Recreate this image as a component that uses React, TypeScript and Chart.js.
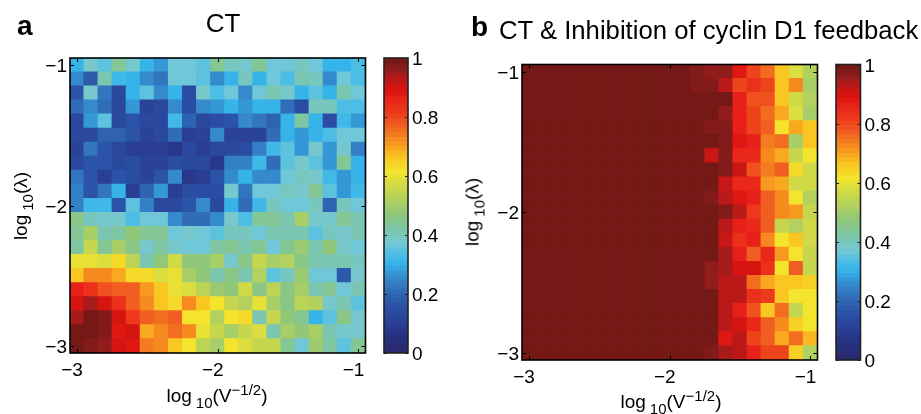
import React, { useEffect, useRef } from "react";
import { Chart, registerables } from "chart.js";

Chart.register(...registerables);

const gridCentres = [-3, -2.9, -2.8, -2.7, -2.6, -2.5, -2.4, -2.3, -2.2, -2.1, -2, -1.9, -1.8, -1.7, -1.6, -1.5, -1.4, -1.3, -1.2, -1.1, -1];
const axisTicks = [-3, -2, -1];
const barTicks = [0, 0.2, 0.4, 0.6, 0.8, 1];

// rows run from log10(lambda) = -1 (top) down to -3 (bottom)
const ctValues = [
  [.31,.38,.35,.44,.38,.31,.28,.37,.37,.35,.44,.40,.38,.45,.37,.37,.40,.36,.31,.31,.34],
  [.26,.18,.41,.32,.31,.25,.22,.37,.37,.35,.25,.31,.40,.30,.37,.34,.42,.40,.25,.37,.34],
  [.16,.38,.23,.14,.31,.35,.25,.31,.15,.38,.33,.36,.25,.37,.42,.38,.31,.35,.30,.42,.37],
  [.21,.26,.21,.14,.27,.12,.13,.26,.15,.26,.28,.31,.28,.31,.31,.21,.15,.40,.40,.34,.34],
  [.14,.28,.35,.13,.17,.13,.13,.32,.19,.14,.15,.17,.25,.22,.19,.30,.43,.31,.15,.32,.28],
  [.14,.14,.19,.19,.16,.11,.13,.21,.10,.11,.26,.11,.12,.12,.21,.31,.27,.31,.33,.37,.36],
  [.11,.22,.16,.13,.10,.10,.10,.09,.13,.10,.14,.13,.15,.24,.32,.35,.28,.38,.28,.39,.24],
  [.14,.16,.16,.14,.15,.11,.11,.15,.14,.14,.09,.24,.24,.32,.21,.35,.39,.35,.28,.44,.31],
  [.23,.16,.10,.16,.15,.11,.16,.26,.09,.10,.16,.25,.31,.25,.25,.36,.40,.38,.32,.27,.31],
  [.24,.16,.23,.31,.10,.19,.28,.10,.15,.15,.15,.38,.22,.37,.37,.40,.38,.44,.35,.27,.32],
  [.24,.32,.32,.16,.35,.24,.14,.14,.16,.26,.13,.31,.21,.32,.40,.37,.37,.40,.20,.40,.37],
  [.46,.40,.38,.38,.34,.37,.37,.25,.21,.21,.25,.38,.33,.44,.44,.42,.50,.38,.38,.45,.41],
  [.44,.50,.41,.43,.47,.44,.44,.36,.38,.36,.35,.40,.40,.37,.42,.42,.42,.35,.40,.38,.42],
  [.43,.56,.45,.51,.46,.39,.43,.39,.36,.36,.43,.44,.41,.44,.36,.45,.49,.42,.47,.38,.37],
  [.60,.60,.58,.63,.54,.42,.47,.57,.47,.47,.50,.39,.46,.55,.50,.52,.46,.42,.42,.42,.40],
  [.67,.72,.72,.70,.63,.63,.58,.60,.51,.47,.42,.46,.42,.52,.35,.40,.49,.37,.37,.18,.38],
  [.86,.84,.79,.77,.77,.71,.66,.60,.58,.54,.49,.47,.57,.46,.54,.46,.50,.42,.44,.37,.41],
  [.90,.95,.90,.83,.78,.72,.66,.63,.72,.66,.62,.55,.52,.60,.50,.46,.54,.52,.38,.42,.35],
  [.95,1,.97,.90,.82,.78,.75,.77,.62,.62,.53,.61,.63,.42,.55,.47,.44,.30,.35,.46,.39],
  [1,.99,.97,.89,.90,.69,.72,.75,.72,.60,.55,.50,.55,.58,.42,.50,.47,.50,.42,.38,.38],
  [1,.98,.96,.90,.88,.74,.72,.66,.62,.54,.50,.62,.58,.55,.55,.45,.37,.49,.43,.35,.45],
];

const inhibitionValues = [
  [1,1,1,1,1,1,1,1,1,1,1,1,.97,.96,.96,.89,.81,.75,.67,.59,.52],
  [1,1,1,1,1,1,1,1,1,1,1,.99,.97,.97,.93,.80,.84,.80,.67,.72,.51],
  [1,1,1,1,1,1,1,1,1,1,1,1,.99,.99,.99,.86,.79,.79,.67,.57,.53],
  [1,1,1,1,1,1,1,1,1,1,1,1,1,.99,.96,.86,.81,.75,.70,.58,.50],
  [1,1,1,1,1,1,1,1,1,1,1,1,1,.97,.97,.86,.80,.77,.62,.70,.66],
  [1,1,1,1,1,1,1,1,1,1,1,1,1,.99,.98,.89,.87,.74,.75,.50,.67],
  [1,1,1,1,1,1,1,1,1,1,1,1,1,.92,.97,.85,.85,.73,.70,.55,.62],
  [1,1,1,1,1,1,1,1,1,1,1,1,1,1,.98,.92,.79,.74,.77,.64,.57],
  [1,1,1,1,1,1,1,1,1,1,1,1,.99,.99,.91,.85,.85,.71,.70,.57,.57],
  [1,1,1,1,1,1,1,1,1,1,1,1,1,.97,.93,.89,.86,.77,.73,.61,.52],
  [1,1,1,1,1,1,1,1,1,1,1,1,.99,.99,.98,.93,.82,.78,.73,.71,.55],
  [1,1,1,1,1,1,1,1,1,1,1,1,1,.99,.93,.86,.85,.78,.55,.53,.57],
  [1,1,1,1,1,1,1,1,1,1,1,1,1,1,.91,.84,.86,.73,.62,.67,.57],
  [1,1,1,1,1,1,1,1,1,1,1,1,.99,.99,.95,.87,.78,.85,.71,.61,.55],
  [1,1,1,1,1,1,1,1,1,1,1,1,1,.96,.95,.90,.90,.84,.61,.78,.56],
  [1,1,1,1,1,1,1,1,1,1,1,1,1,.96,.93,.93,.76,.69,.67,.66,.65],
  [1,1,1,1,1,1,1,1,1,1,1,1,1,.99,.93,.93,.83,.82,.66,.61,.61],
  [1,1,1,1,1,1,1,1,1,1,1,1,1,.99,.93,.87,.79,.66,.76,.55,.61],
  [1,1,1,1,1,1,1,1,1,1,1,1,1,.99,.93,.90,.85,.77,.72,.65,.61],
  [1,1,1,1,1,1,1,1,1,1,1,1,1,.99,.89,.93,.81,.77,.70,.75,.68],
  [1,1,1,1,1,1,1,1,1,1,1,1,.99,.98,.95,.93,.87,.80,.80,.65,.53],
];

const mapStops: [number, string][] = [
  [0, "#2a2a6c"], [0.05, "#26307f"], [0.1, "#2a3f95"], [0.15, "#2a4fa5"], [0.2, "#2f68b4"],
  [0.25, "#3487cb"], [0.3, "#35b3ea"], [0.33, "#48bde6"], [0.37, "#74c8d5"], [0.42, "#7cc6aa"],
  [0.47, "#8dc67c"], [0.52, "#b0d060"], [0.57, "#cfd947"], [0.62, "#f5e42c"], [0.67, "#f9c421"],
  [0.72, "#f7941e"], [0.77, "#f26522"], [0.82, "#ed3b1b"], [0.87, "#e9211a"], [0.9, "#da130f"],
  [0.94, "#b81a19"], [0.97, "#8f1c1c"], [1, "#741915"],
];
const LEVELS = 64;

const hexRgb = (h: string) => [1, 3, 5].map((i) => parseInt(h.slice(i, i + 2), 16));
function colourOf(v: number): string {
  const q = Math.min(LEVELS - 1, Math.floor(v * LEVELS)) / (LEVELS - 1);
  let i = 0;
  while (i < mapStops.length - 2 && q > mapStops[i + 1][0]) i++;
  const [a, ca] = mapStops[i];
  const [b, cb] = mapStops[i + 1];
  const t = Math.min(1, (q - a) / (b - a));
  const A = hexRgb(ca);
  const B = hexRgb(cb);
  return `rgb(${A.map((c, k) => Math.round(c + (B[k] - c) * t)).join(",")})`;
}

const W = 921;
const H = 414;
const FONT = "'Liberation Sans', Arial, sans-serif";
const minus = (v: number) => String(v).replace("-", "\u2212");

type Box = { l: number; t: number; r: number; b: number };

const framePlugin = {
  id: "frame",
  afterDatasetsDraw(chart: any) {
    const { ctx, chartArea: a } = chart;
    const len = chart.options.plugins.frame.tickLength;
    ctx.save();
    ctx.strokeStyle = chart.options.plugins.frame.colour;
    ctx.lineWidth = 1;
    ctx.beginPath();
    for (const tick of chart.scales.y.ticks) {
      const p = Math.round(chart.scales.y.getPixelForValue(tick.value)) + 0.5;
      ctx.moveTo(a.left, p); ctx.lineTo(a.left + len, p);
      ctx.moveTo(a.right, p); ctx.lineTo(a.right - len, p);
    }
    if (len > 0 && chart.options.plugins.frame.xTicks) {
      for (const tick of chart.scales.x.ticks) {
        const p = Math.round(chart.scales.x.getPixelForValue(tick.value)) + 0.5;
        ctx.moveTo(p, a.top); ctx.lineTo(p, a.top + len);
        ctx.moveTo(p, a.bottom); ctx.lineTo(p, a.bottom - len);
      }
    }
    ctx.stroke();
    ctx.lineWidth = 1.6;
    ctx.strokeRect(a.left, a.top, a.right - a.left, a.bottom - a.top);
    ctx.restore();
  },
};

const scaleBase = {
  grid: { display: false, drawTicks: false },
  border: { display: false },
};

function Heatmap({ box, values }: { box: Box; values: number[][] }) {
  const ref = useRef<HTMLCanvasElement>(null);
  useEffect(() => {
    const cells: any[] = [];
    const colours: string[] = [];
    values.forEach((row, r) => {
      const centre = gridCentres[gridCentres.length - 1 - r];
      row.forEach((v, c) => {
        cells.push({ x: gridCentres[c], y: [centre - 0.05, centre + 0.05] });
        colours.push(colourOf(v));
      });
    });
    const chart = new Chart(ref.current!, {
      type: "bar",
      data: {
        datasets: [{
          data: cells,
          backgroundColor: colours,
          borderWidth: 0,
          barPercentage: 1,
          categoryPercentage: 1,
          inflateAmount: 0.6,
        }],
      } as any,
      plugins: [framePlugin],
      options: {
        animation: false,
        responsive: false,
        events: [],
        layout: { padding: { left: 0, top: box.t, right: W - box.r, bottom: 0 } },
        plugins: {
          legend: { display: false },
          tooltip: { enabled: false },
          frame: { tickLength: 4, colour: "#000", xTicks: true },
        } as any,
        scales: {
          x: {
            ...scaleBase,
            type: "linear",
            offset: false,
            min: -3.05,
            max: -0.95,
            afterBuildTicks: (s: any) => { s.ticks = axisTicks.map((value) => ({ value })); },
            afterFit: (s: any) => { s.height = H - box.b; },
            ticks: {
              autoSkip: false, maxRotation: 0, minRotation: 0, padding: 6, labelOffset: -5, color: "#000",
              font: { family: FONT, size: 19 }, callback: (v: any) => minus(v),
            },
          },
          y: {
            ...scaleBase,
            type: "linear",
            min: -3.05,
            max: -0.95,
            afterBuildTicks: (s: any) => { s.ticks = axisTicks.map((value) => ({ value })); },
            afterFit: (s: any) => { s.width = box.l; },
            ticks: {
              autoSkip: false, padding: 3, labelOffset: 2, color: "#000",
              font: { family: FONT, size: 19 }, callback: (v: any) => minus(v),
            },
          },
        },
      } as any,
    });
    return () => chart.destroy();
  }, []);
  return <canvas ref={ref} width={W} height={H} style={canvasStyle} />;
}

function ColourBar({ box }: { box: Box }) {
  const ref = useRef<HTMLCanvasElement>(null);
  useEffect(() => {
    const cells: any[] = [];
    const colours: string[] = [];
    for (let i = 0; i < LEVELS; i++) {
      cells.push({ x: 0.5, y: [i / LEVELS, (i + 1) / LEVELS] });
      colours.push(colourOf((i + 0.5) / LEVELS));
    }
    const chart = new Chart(ref.current!, {
      type: "bar",
      data: {
        datasets: [{
          data: cells,
          backgroundColor: colours,
          borderWidth: 0,
          barPercentage: 1,
          categoryPercentage: 1,
          inflateAmount: 0.6,
          barThickness: box.r - box.l,
        }],
      } as any,
      plugins: [framePlugin],
      options: {
        animation: false,
        responsive: false,
        events: [],
        layout: { padding: { left: box.l, top: box.t, right: 0, bottom: H - box.b } },
        plugins: {
          legend: { display: false },
          tooltip: { enabled: false },
          frame: { tickLength: 3, colour: "#222", xTicks: false },
        } as any,
        scales: {
          x: {
            ...scaleBase,
            type: "linear",
            offset: false,
            min: 0,
            max: 1,
            display: false,
          },
          y: {
            ...scaleBase,
            type: "linear",
            position: "right",
            min: 0,
            max: 1,
            afterBuildTicks: (s: any) => { s.ticks = barTicks.map((value) => ({ value })); },
            afterFit: (s: any) => { s.width = W - box.r; },
            ticks: {
              autoSkip: false, padding: 4, labelOffset: 2, color: "#000",
              font: { family: FONT, size: 19 }, callback: (v: any) => String(v),
            },
          },
        },
      } as any,
    });
    return () => chart.destroy();
  }, []);
  return <canvas ref={ref} width={W} height={H} style={canvasStyle} />;
}

const canvasStyle: React.CSSProperties = { position: "absolute", left: 0, top: 0, width: W, height: H };

function Text({ x, y, size = 19, bold = false, children, rotate = false, anchor = "middle" }: any) {
  const shift = anchor === "middle" ? "-50%" : "0";
  return (
    <div style={{
      position: "absolute", left: x, top: y, fontFamily: FONT, fontSize: size, fontWeight: bold ? 700 : 400,
      lineHeight: "20px", color: "#000", whiteSpace: "nowrap",
      transform: rotate ? "translate(-50%,-50%) rotate(-90deg)" : `translate(${shift},-50%)`,
    }}>{children}</div>
  );
}

const Sub = ({ children }: any) => <span style={{ fontSize: 15, position: "relative", top: 6, marginLeft: 4 }}>{children}</span>;
const Sup = ({ children }: any) => <span style={{ fontSize: 15, position: "relative", top: -7 }}>{children}</span>;

const XLabel = () => <>log<Sub>10</Sub>(V<Sup>{"\u22121/2"}</Sup>)</>;
const YLabel = () => <>log<Sub>10</Sub>({"\u03bb"})</>;

export default function App() {
  const boxA = { l: 70, t: 58, r: 365.5, b: 353 };
  const barA = { l: 384, t: 58, r: 408, b: 353 };
  const boxB = { l: 522, t: 64.5, r: 817.5, b: 360 };
  const barB = { l: 836, t: 64.5, r: 860.5, b: 360 };
  return (
    <div style={{ position: "fixed", left: 0, top: 0, width: W, height: H, overflow: "hidden", background: "#fff" }}>
      <Heatmap box={boxA} values={ctValues} />
      <ColourBar box={barA} />
      <Heatmap box={boxB} values={inhibitionValues} />
      <ColourBar box={barB} />
      <Text x={17} y={26} size={28} bold anchor="start">a</Text>
      <Text x={471} y={27} size={28} bold anchor="start">b</Text>
      <Text x={223} y={23} size={26}>CT</Text>
      <Text x={499} y={30} size={25.7} anchor="start">CT &amp; Inhibition of cyclin D1 feedback</Text>
      <Text x={217} y={396}><XLabel /></Text>
      <Text x={671} y={402}><XLabel /></Text>
      <Text x={21} y={206} rotate><YLabel /></Text>
      <Text x={473} y={212} rotate><YLabel /></Text>
    </div>
  );
}
